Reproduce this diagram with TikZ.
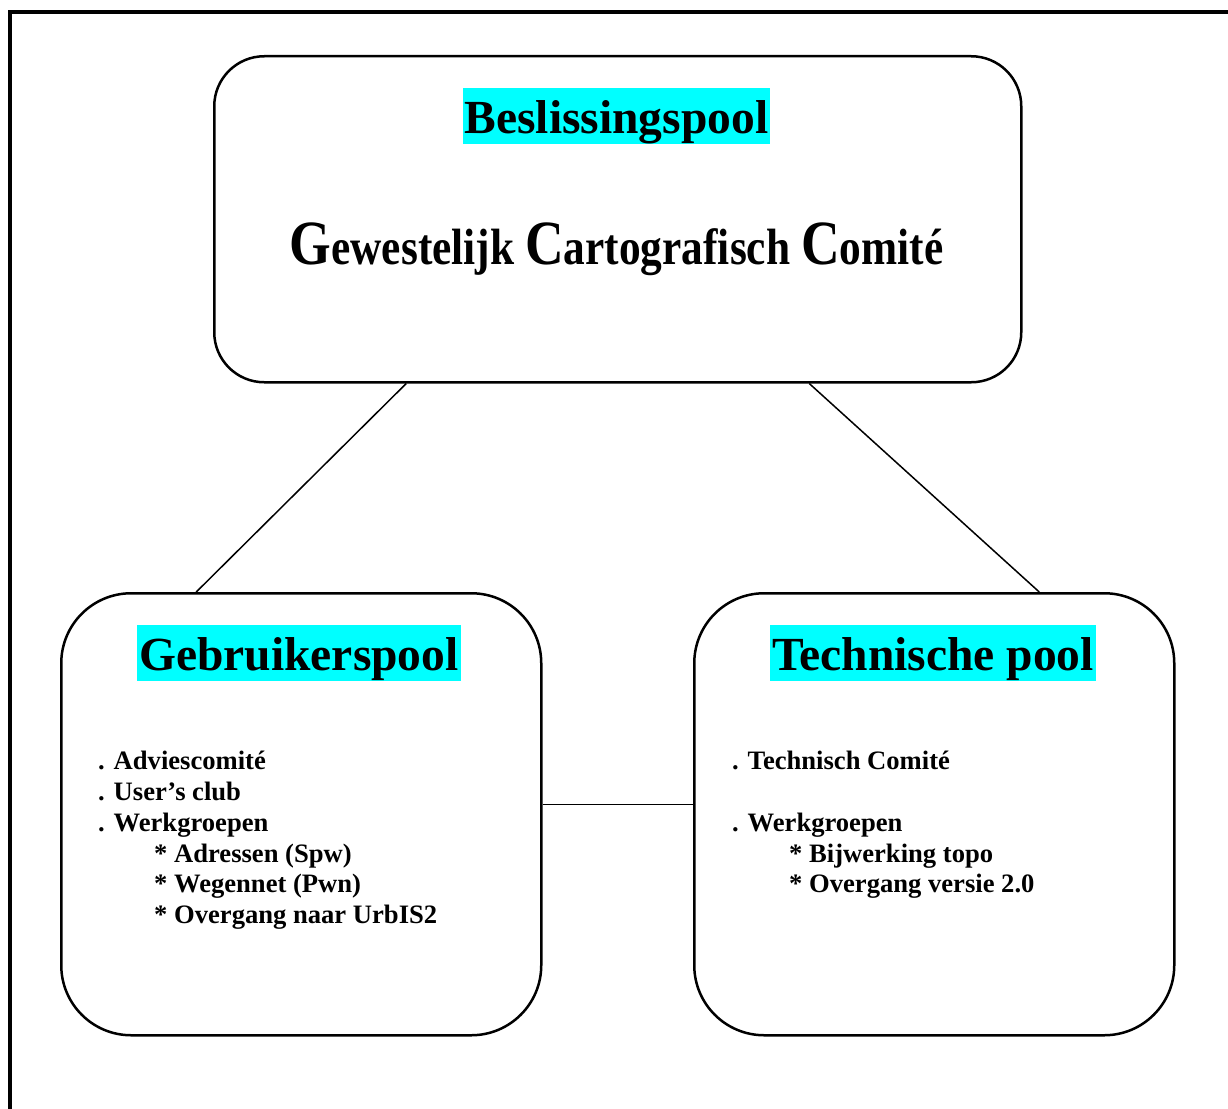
\documentclass[tikz,border=0pt]{standalone}
\usepackage{fontspec}
\usepackage{graphicx}
\setmainfont{Liberation Serif}
\definecolor{headcyan}{RGB}{0,255,255}
\newcommand{\gccinitial}[1]{{\fontsize{63}{64}\selectfont #1}}
\tikzset{
  poolbox/.style={draw, line width=2.5pt, inner sep=0pt, anchor=north west},
  headlabel/.style={fill=headcyan, inner xsep=2pt, inner ysep=0pt, text height=45.5pt, text depth=11pt, anchor=base, font=\bfseries\fontsize{47.5}{57}\selectfont},
  itemtext/.style={anchor=base west, inner sep=0pt, font=\bfseries\fontsize{26.6}{31}\selectfont},
  link/.style={line width=1.5pt}
}
\begin{document}
\begin{tikzpicture}[x=1pt, y=-1pt]
  \useasboundingbox (0,0) rectangle (1228,1108);
  \fill[white] (0,0) rectangle (1228,1108);
  \begin{scope}
    \clip (0,0) rectangle (1228,1108);
    \draw[line width=4pt] (9.5,1130) -- (9.5,12) -- (1240,12);
  \end{scope}

  % boxes
  \node[poolbox, rounded corners=50pt, minimum width=807pt, minimum height=326pt] (top) at (213,55) {};
  \node[poolbox, rounded corners=70pt, minimum width=480pt, minimum height=442pt] (gp) at (60,592) {};
  \node[poolbox, rounded corners=70pt, minimum width=480pt, minimum height=442pt] (tp) at (693,592) {};

  % connectors
  \draw[link] ([xshift=-211.5pt]top.south) -- ([xshift=-105pt]gp.north);
  \draw[link] ([xshift=191.5pt]top.south) -- ([xshift=105pt]tp.north);
  \draw[link] ([yshift=10pt]gp.east) -- ([yshift=10pt]tp.west);

  % headings
  \node[headlabel] (hb) at (616.5,133) {Beslissingspool};
  \node[headlabel] (hg) at (299,670) {Gebruikerspool};
  \node[headlabel] (ht) at (933,670) {Technische pool};

  \node[anchor=base, inner sep=0pt] (gcc) at (616.5,264)
    {\scalebox{0.85}[1]{\bfseries\fontsize{51}{60}\selectfont \gccinitial{G}ewestelijk \gccinitial{C}artografisch \gccinitial{C}omité}};

  % left list
  \node[itemtext] (l1) at (98,769) {. Adviescomité};
  \node[itemtext] (l2) at (98,800) {. User’s club};
  \node[itemtext] (l3) at (98,831) {. Werkgroepen};
  \node[itemtext] (l4) at (154,862) {* Adressen (Spw)};
  \node[itemtext] (l5) at (154,892) {* Wegennet (Pwn)};
  \node[itemtext] (l6) at (154,923) {* Overgang naar UrbIS2};

  % right list
  \node[itemtext] (r1) at (732,769) {. Technisch Comité};
  \node[itemtext] (r2) at (732,831) {. Werkgroepen};
  \node[itemtext] (r3) at (789,862) {* Bijwerking topo};
  \node[itemtext] (r4) at (789,892) {* Overgang versie 2.0};
\end{tikzpicture}
\end{document}
